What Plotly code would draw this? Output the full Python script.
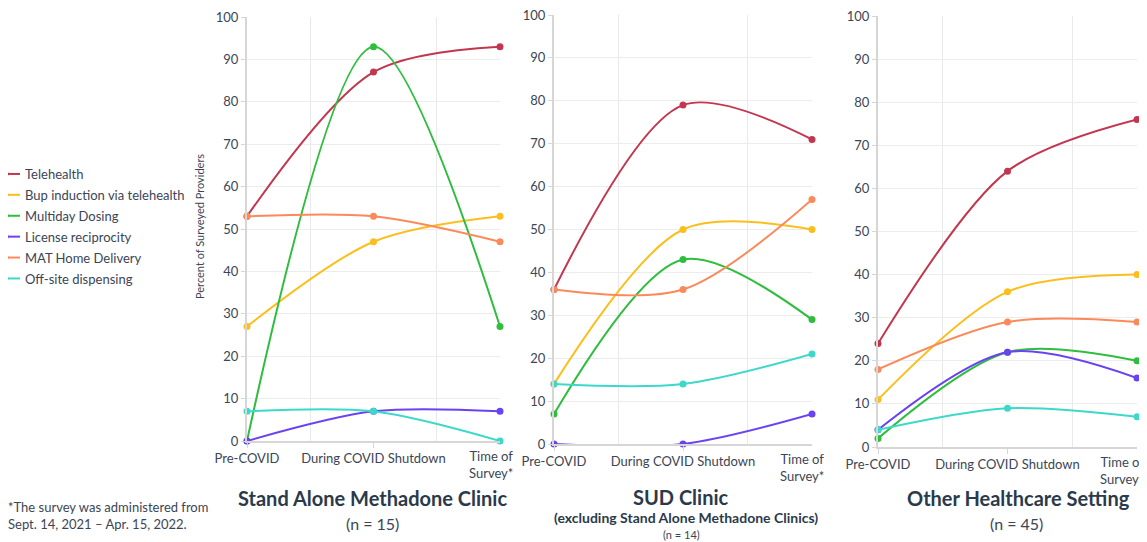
import plotly.graph_objects as go

# ---- data ----
periods = ["Pre-COVID", "During COVID Shutdown", "Time of<br>Survey*"]
period_pos = [0, 1, 2]

series_names = ["Telehealth", "Bup induction via telehealth", "Multiday Dosing",
                "License reciprocity", "MAT Home Delivery", "Off-site dispensing"]
series_colors = ["#c2374f", "#fbbf1c", "#2fbd3d", "#6a42f3", "#fb8a5b", "#3cd9cb"]

# rows follow series_names order; columns follow periods
standalone_values = [
    [53, 87, 93],
    [27, 47, 53],
    [0, 93, 27],
    [0, 7, 7],
    [53, 53, 47],
    [7, 7, 0],
]
sud_values = [
    [36, 79, 71],
    [14, 50, 50],
    [7, 43, 29],
    [0, 0, 7],
    [36, 36, 57],
    [14, 14, 21],
]
other_values = [
    [24, 64, 76],
    [11, 36, 40],
    [2, 22, 20],
    [4, 22, 16],
    [18, 29, 29],
    [4, 9, 7],
]
y_ticks = list(range(0, 101, 10))

# page body has an 8px default margin: figure is sized to fill the rest
OFF = 8
W, H = 1147 - OFF, 542 - OFF
TXT = "#3b4555"
TITLE = "#2b3a4b"
FONT = "Lato"


def px_x(p):
    return (p - OFF) / W


def px_y(p):
    return 1 - (p - OFF) / H


fig = go.Figure()

panels = [
    ("x", "y", standalone_values),
    ("x2", "y2", sud_values),
    ("x3", "y3", other_values),
]
for pi, (xa, ya, vals) in enumerate(panels):
    for si, name in enumerate(series_names):
        fig.add_trace(go.Scatter(
            x=period_pos, y=vals[si], name=name, xaxis=xa, yaxis=ya,
            mode="lines+markers",
            line=dict(color=series_colors[si], width=2, shape="spline", smoothing=0.9),
            marker=dict(color=series_colors[si], size=7),
            legendgroup=name, showlegend=(pi == 0), cliponaxis=False,
        ))

# panel geometry in window pixels: (x_left, x_right, y_top(100), y_bottom(0))
geo = [(247, 500, 17, 441), (554, 812, 15, 444), (878, 1137, 16, 447)]
last_label_shift = [-9, -10, -15]


def xaxis_cfg(g):
    return dict(
        domain=[px_x(g[0]), px_x(g[1])], range=[0, 2], fixedrange=True,
        tickmode="array", tickvals=period_pos[:2], ticktext=periods[:2],
        showgrid=False, zeroline=False,
        minor=dict(tickmode="array", tickvals=[0.5, 1.5], showgrid=True,
                   gridcolor="#e9e9e9", gridwidth=1, ticks=""),
        showline=True, linecolor="#d6d6d6", linewidth=1.5,
        ticks="outside", ticklen=5, tickcolor="#d6d6d6",
        tickfont=dict(family=FONT, size=13, color=TXT), automargin=False,
        ticklabeloverflow="allow",
    )


def yaxis_cfg(g, anchor):
    return dict(
        domain=[px_y(g[3]), px_y(g[2])], range=[0, 100], fixedrange=True,
        anchor=anchor, tickmode="array", tickvals=y_ticks,
        showgrid=True, gridcolor="#ececec", zeroline=False,
        showline=True, linecolor="#d6d6d6", linewidth=2,
        ticks="outside", ticklen=4, tickcolor="#d6d6d6",
        tickfont=dict(family=FONT, size=13, color=TXT), automargin=False,
        ticklabeloverflow="allow",
    )


fig.update_layout(
    xaxis=dict(**xaxis_cfg(geo[0]), anchor="y"),
    yaxis=yaxis_cfg(geo[0], "x"),
    xaxis2=dict(**xaxis_cfg(geo[1]), anchor="y2"),
    yaxis2=yaxis_cfg(geo[1], "x2"),
    xaxis3=dict(**xaxis_cfg(geo[2]), anchor="y3"),
    yaxis3=yaxis_cfg(geo[2], "x3"),
)

ann = []
# last period labels
for (xa, ya), sh in zip([("x", "y"), ("x2", "y2"), ("x3", "y3")], last_label_shift):
    ann.append(dict(x=2, y=0, xref=xa, yref=ya, text=periods[2], showarrow=False,
                    xanchor="center", yanchor="top", yshift=-5, xshift=sh,
                    font=dict(family=FONT, size=13, color=TXT), align="center"))


def pann(xpx, ypx, text, size, color=TXT, **kw):
    d = dict(x=px_x(xpx), y=px_y(ypx), xref="paper", yref="paper", text=text,
             showarrow=False, xanchor="center", yanchor="middle",
             font=dict(family=FONT, size=size, color=color))
    d.update(kw)
    return d


ann += [
    pann(199, 227, "Percent of Surveyed Providers", 11, textangle=-90),
    pann(372, 498, "<b>Stand Alone Methadone Clinic</b>", 20, TITLE),
    pann(372, 523, "(n = 15)", 16),
    pann(681, 497, "<b>SUD Clinic</b>", 20, TITLE),
    pann(686, 517, "<b>(excluding Stand Alone Methadone Clinics)</b>", 14, TITLE),
    pann(681, 534, "(n = 14)", 11),
    pann(1018, 498, "<b>Other Healthcare Setting</b>", 20, TITLE),
    pann(1017, 523, "(n = 45)", 16),
    pann(6, 515, "*The survey was administered from<br>Sept. 14, 2021 \u2013 Apr. 15, 2022.",
         13, xanchor="left", align="left"),
]

fig.update_layout(
    width=W, height=H,
    margin=dict(l=0, r=0, t=0, b=0, autoexpand=False),
    paper_bgcolor="white", plot_bgcolor="white",
    font=dict(family=FONT, color=TXT),
    annotations=ann,
    legend=dict(x=-23 / W, y=px_y(159), xanchor="left", yanchor="top",
                bgcolor="rgba(0,0,0,0)", font=dict(family=FONT, size=13, color=TXT),
                itemwidth=30, tracegroupgap=1),
    showlegend=True,
)

fig.write_html("out.html")
